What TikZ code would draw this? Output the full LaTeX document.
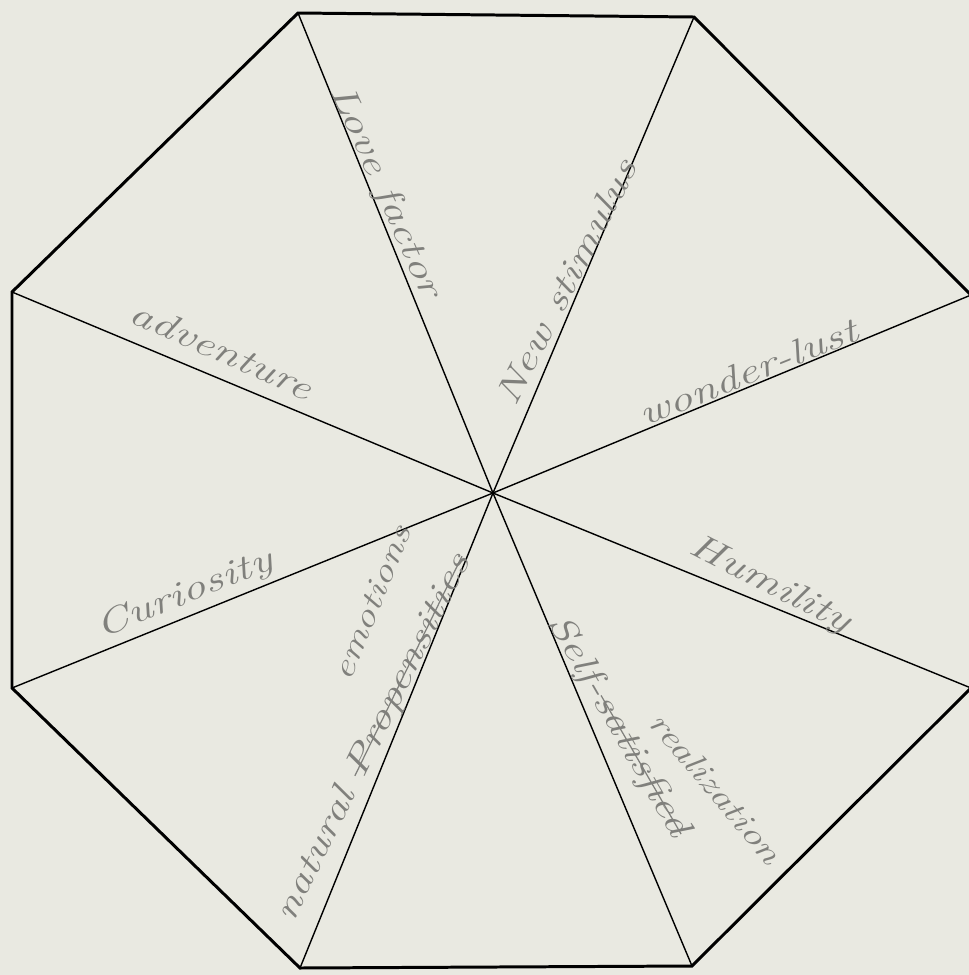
\documentclass[tikz,border=0pt]{standalone}
\definecolor{paper}{RGB}{233,233,225}
\definecolor{pencil}{RGB}{128,128,124}
\newcommand\crossout[1]{\setbox0\hbox{#1}\rlap{\rule[0.25em]{\wd0}{0.7pt}}\box0}

\begin{document}
\begin{tikzpicture}[x=0.02cm, y=-0.02cm,
    hand/.style={rotate=#1, xscale=1.35, pencil, inner sep=0pt,
                 font=\fontsize{20}{22}\selectfont\itshape}]
  % Paper
  \fill[paper] (0,0) rectangle (969,975);
  \useasboundingbox (0,0) rectangle (969,975);
  % Centre and corners of the octagon
  \coordinate (O) at (493,493);
  \coordinate (A) at (298,13);
  \coordinate (B) at (694,17);
  \coordinate (C) at (971,295);
  \coordinate (D) at (971,688);
  \coordinate (E) at (692,966);
  \coordinate (F) at (300,968);
  \coordinate (G) at (12,688);
  \coordinate (H) at (12,292);
  % Outline
  \draw[line width=1.7pt, line join=miter] (A) -- (B) -- (C) -- (D) -- (E) -- (F) -- (G) -- (H) -- cycle;
  % Spokes
  \foreach \v in {A,B,C,D,E,F,G,H}
      \draw[line width=0.8pt] (O) -- (\v);
  % Labels
  \node[hand=-66] (love) at (385,192) {Love factor};
  \node[hand=63] (stim) at (566,282) {New stimulus};
  \node[hand=22] (wander) at (748,372) {wonder-lust};
  \node[hand=-24] (adv) at (222,350) {adventure};
  \node[hand=22] (curio) at (185,595) {Curiosity};
  \node[hand=-27] (humil) at (770,585) {Humility};
  \node[hand=64] (natur) at (374,738) {natural \crossout{Propensities}};
  \node[hand=68, font=\fontsize{18}{20}\selectfont\itshape] (emot) at (372,603) {emotions};
  \node[hand=-60] (self) at (618,726) {Self-\crossout{satisfied}};
  \node[hand=-50, font=\fontsize{18}{20}\selectfont\itshape] (real) at (716,788) {realization};
\end{tikzpicture}
\end{document}
